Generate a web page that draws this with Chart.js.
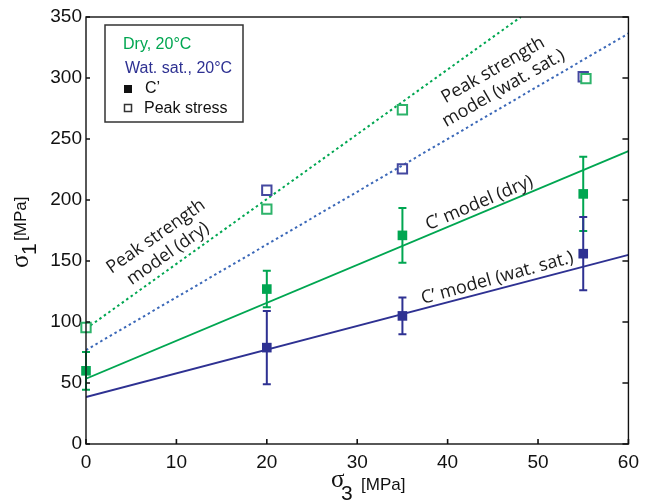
<!DOCTYPE html>
<html>
<head>
<meta charset="utf-8">
<script src="https://cdn.jsdelivr.net/npm/chart.js@4.4.1/dist/chart.umd.min.js"></script>
<style>
  html, body { margin: 0; padding: 0; background: #fff; }
  #wrap { width: 646px; height: 504px; position: relative; }
</style>
</head>
<body>
<div id="wrap"><canvas id="chart"></canvas></div>
<script>
// C' values (filled squares) with error bars
const dryX = [0, 20, 35, 55];
const dryC = [60, 127, 171, 205];
const dryErr = [15.5, 15, 22.5, 30.5];
const wetX = [20, 35, 55];
const wetC = [79, 105, 156];
const wetErr = [30, 15, 30];

// Peak stress (open squares)
const dryPeakX = [0, 20, 35, 55.3];
const dryPeak = [95.5, 192.5, 274, 299.5];
const wetPeakX = [20, 35, 55];
const wetPeak = [208, 225.5, 301];

// model lines (end points)
const cModelX = [0, 60];
const cModelDry = [53.5, 240];
const cModelWet = [38.5, 155];
const peakModelDryX = [0, 48.1];
const peakModelDry = [94.5, 350];
const peakModelWetX = [0, 60];
const peakModelWet = [77, 336.5];

const xTicks = [0, 10, 20, 30, 40, 50, 60];
const yTicks = [0, 50, 100, 150, 200, 250, 300, 350];

const GREEN = '#00a651';
const NAVY = '#2e3192';
const BLUE = '#3b68b8';

function pts(xs, ys) {
    return xs.map((x, i) => ({ x: x, y: ys[i] }));
}

// error bars, frame, inward ticks, legend and annotations
const decorPlugin = {
    id: 'decor',
    beforeDatasetsDraw(chart) {
        const ctx = chart.ctx;
        const xs = chart.scales.x, ys = chart.scales.y;
        function bars(xArr, yArr, eArr, color) {
            ctx.save();
            ctx.strokeStyle = color;
            ctx.lineWidth = 2;
            xArr.forEach((x, i) => {
                const px = xs.getPixelForValue(x);
                const top = ys.getPixelForValue(yArr[i] + eArr[i]);
                const bot = ys.getPixelForValue(yArr[i] - eArr[i]);
                ctx.beginPath();
                ctx.moveTo(px, top); ctx.lineTo(px, bot);
                ctx.moveTo(px - 4, top); ctx.lineTo(px + 4, top);
                ctx.moveTo(px - 4, bot); ctx.lineTo(px + 4, bot);
                ctx.stroke();
            });
            ctx.restore();
        }
        bars(dryX, dryC, dryErr, GREEN);
        bars(wetX, wetC, wetErr, NAVY);
    },
    afterDraw(chart) {
        const ctx = chart.ctx;
        const a = chart.chartArea;
        const xs = chart.scales.x, ys = chart.scales.y;

        // frame
        ctx.save();
        ctx.strokeStyle = '#111';
        ctx.lineWidth = 1.4;
        ctx.strokeRect(a.left, a.top, a.right - a.left, a.bottom - a.top);

        // inward ticks
        ctx.lineWidth = 1.6;
        ctx.beginPath();
        yTicks.forEach(v => {
            const py = ys.getPixelForValue(v);
            ctx.moveTo(a.left, py); ctx.lineTo(a.left + 4, py);
            ctx.moveTo(a.right, py); ctx.lineTo(a.right - 6, py);
        });
        xTicks.forEach(v => {
            const px = xs.getPixelForValue(v);
            ctx.moveTo(px, a.bottom); ctx.lineTo(px, a.bottom - 5);
        });
        ctx.stroke();
        ctx.restore();

        // legend box
        ctx.save();
        ctx.strokeStyle = '#333';
        ctx.lineWidth = 1.5;
        ctx.strokeRect(105, 25, 138, 97);
        ctx.font = '16px "Liberation Sans", Arial, sans-serif';
        ctx.textBaseline = 'alphabetic';
        ctx.fillStyle = GREEN;
        ctx.fillText('Dry, 20\u00b0C', 123, 49);
        ctx.fillStyle = NAVY;
        ctx.fillText('Wat. sat., 20\u00b0C', 125, 73);
        ctx.fillStyle = '#111';
        ctx.fillText('C\u2019', 145, 93);
        ctx.fillText('Peak stress', 144, 113);
        ctx.fillRect(124, 85, 8, 8);
        ctx.lineWidth = 1.5;
        ctx.strokeRect(124.5, 104.5, 7, 7);
        ctx.restore();

        // rotated annotations
        function note(lines, xv, yv, deg, size) {
            const px = xs.getPixelForValue(xv);
            const py = ys.getPixelForValue(yv);
            ctx.save();
            ctx.translate(px, py);
            ctx.rotate(-deg * Math.PI / 180);
            ctx.font = size + 'px "Open Sans", "Noto Sans", sans-serif';
            ctx.fillStyle = '#1a1a1a';
            ctx.textAlign = 'center';
            ctx.textBaseline = 'middle';
            const lh = 21;
            lines.forEach((t, i) => {
                ctx.fillText(t, 0, (i - (lines.length - 1) / 2) * lh);
            });
            ctx.restore();
        }
        note(['Peak strength', 'model (dry)'], 8.4, 163, 35, 18);
        note(['Peak strength', 'model (wat. sat.)'], 45.6, 299, 30, 18);
        note(['C\u2019 model (dry)'], 43.5, 197.5, 23, 18);
        note(['C\u2019 model (wat. sat.)'], 45.5, 136, 15.5, 18);

        // axis titles
        ctx.save();
        ctx.fillStyle = '#111';
        ctx.textBaseline = 'alphabetic';
        ctx.font = '25px "Liberation Serif", "DejaVu Serif", serif';
        ctx.fillText('\u03c3', 331, 487);
        ctx.font = '21px "Liberation Sans", Arial, sans-serif';
        ctx.fillText('3', 341, 500);
        ctx.font = '17px "Liberation Sans", Arial, sans-serif';
        ctx.fillText('[MPa]', 361, 490);

        ctx.translate(28, 268);
        ctx.rotate(-Math.PI / 2);
        ctx.font = '25px "Liberation Serif", "DejaVu Serif", serif';
        ctx.fillText('\u03c3', 0, 0);
        ctx.font = '21px "Liberation Sans", Arial, sans-serif';
        ctx.fillText('1', 13, 8);
        ctx.font = '17px "Liberation Sans", Arial, sans-serif';
        ctx.fillText('[MPa]', 27, -2);
        ctx.restore();
    }
};

const ctxEl = document.getElementById('chart');
new Chart(ctxEl, {
    type: 'scatter',
    data: {
        datasets: [
            {
                type: 'line', data: pts(peakModelDryX, peakModelDry),
                borderColor: GREEN, borderWidth: 2, borderDash: [2.5, 3],
                pointRadius: 0, order: 10
            },
            {
                type: 'line', data: pts(peakModelWetX, peakModelWet),
                borderColor: BLUE, borderWidth: 2, borderDash: [2.5, 3],
                pointRadius: 0, order: 10
            },
            {
                type: 'line', data: pts(cModelX, cModelDry),
                borderColor: GREEN, borderWidth: 1.8,
                pointRadius: 0, order: 10
            },
            {
                type: 'line', data: pts(cModelX, cModelWet),
                borderColor: NAVY, borderWidth: 1.8,
                pointRadius: 0, order: 10
            },
            {
                data: pts(dryX, dryC), pointStyle: 'rect', pointRadius: 6.8,
                backgroundColor: GREEN, borderColor: GREEN, borderWidth: 0,
                clip: false, order: 2
            },
            {
                data: pts(wetX, wetC), pointStyle: 'rect', pointRadius: 6.8,
                backgroundColor: NAVY, borderColor: NAVY, borderWidth: 0,
                clip: false, order: 1
            },
            {
                data: pts(dryPeakX, dryPeak), pointStyle: 'rect', pointRadius: 6.6,
                backgroundColor: '#fff', borderColor: '#2db36a', borderWidth: 2,
                clip: false, order: 3
            },
            {
                data: pts(wetPeakX, wetPeak), pointStyle: 'rect', pointRadius: 6.6,
                backgroundColor: 'rgba(255,255,255,0)', borderColor: '#4448a0', borderWidth: 2,
                clip: false, order: 4
            }
        ]
    },
    options: {
        responsive: true,
        maintainAspectRatio: false,
        animation: false,
        layout: { padding: { top: 17, right: 15, left: 0, bottom: 0 } },
        plugins: {
            legend: { display: false },
            tooltip: { enabled: false }
        },
        scales: {
            x: {
                type: 'linear', min: 0, max: 60,
                grid: { display: false, drawTicks: false },
                border: { display: false },
                ticks: {
                    stepSize: 10, padding: 7, color: '#111',
                    font: { family: '"Liberation Sans", Arial, sans-serif', size: 19 }
                },
                afterFit: s => { s.height = 60; }
            },
            y: {
                type: 'linear', min: 0, max: 350,
                grid: { display: false, drawTicks: false },
                border: { display: false },
                ticks: {
                    stepSize: 50, padding: 4, color: '#111',
                    font: { family: '"Liberation Sans", Arial, sans-serif', size: 19 }
                },
                afterFit: s => { s.width = 86; }
            }
        }
    },
    plugins: [decorPlugin]
});
</script>
</body>
</html>
